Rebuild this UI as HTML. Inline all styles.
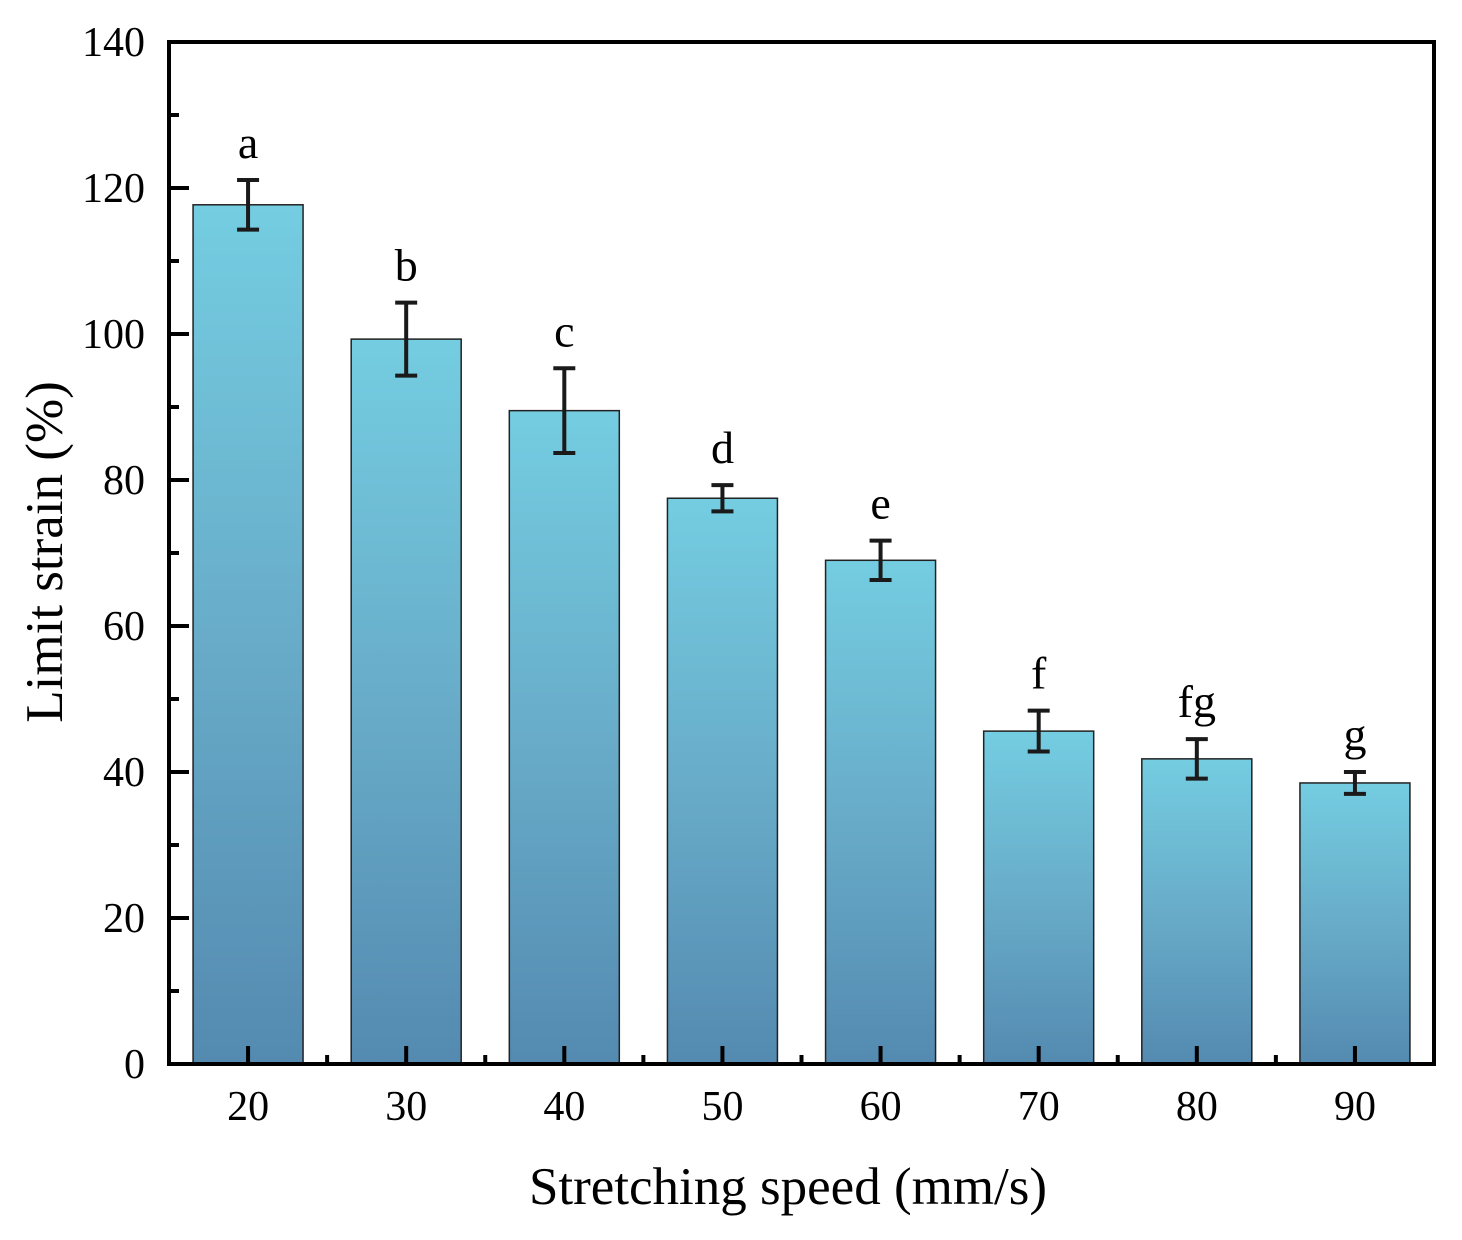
<!DOCTYPE html>
<html><head><meta charset="utf-8"><style>
html,body{margin:0;padding:0;background:#fff}
svg{display:block}
text{font-family:"Liberation Serif",serif;fill:#000}
</style></head><body>
<svg id="chart" width="1462" height="1240">
<defs>
<linearGradient id="g" x1="0" y1="0" x2="0" y2="1">
<stop offset="0" stop-color="#74cde1"/>
<stop offset="0.5" stop-color="#68acc9"/>
<stop offset="1" stop-color="#548ab0"/>
</linearGradient>
</defs>
<g id="plot"></g>
</svg>
<script>
const categories=["20","30","40","50","60","70","80","90"];
const values=[117.7,99.3,89.5,77.5,69.0,45.6,41.8,38.5];
const errors=[3.4,5.0,5.8,1.8,2.7,2.8,2.7,1.5];
const letters=["a","b","c","d","e","f","fg","g"];
const yTicks=[0,20,40,60,80,100,120,140];

const NS="http://www.w3.org/2000/svg";
const g=document.getElementById('plot');
const L=169,R=1434,T=42,B=1064,yMax=140;
const step=(R-L)/categories.length;
const y=v=>B-(v/yMax)*(B-T);
const x=i=>L+step*(i+0.5);
const bw=110;
function mk(tag,attrs,parent){const e=document.createElementNS(NS,tag);for(const k in attrs)e.setAttribute(k,attrs[k]);(parent||g).appendChild(e);return e;}

categories.forEach((c,i)=>{
  const cx=x(i),top=y(values[i]);
  const r=mk('rect',{x:cx-bw/2,y:top,width:bw,height:B-top,fill:'url(#g)',stroke:'#222','stroke-width':1.5});
  
  
  const eu=y(values[i]+errors[i]),ed=y(values[i]-errors[i]);
  const eb=mk('path',{d:`M${cx},${eu}V${ed}M${cx-11},${eu}H${cx+11}M${cx-11},${ed}H${cx+11}`,stroke:'#1a1a1a','stroke-width':4,fill:'none'});
  
  
  const lt=mk('text',{x:cx,y:eu-22,'font-size':46,'text-anchor':'middle'});
  lt.textContent=letters[i];
  
  
  const xl=mk('text',{x:cx,y:1120,'font-size':42,'text-anchor':'middle'});
  xl.textContent=c;
  
  
  mk('line',{x1:cx,x2:cx,y1:B,y2:B-18,stroke:'#000','stroke-width':4});
  if(i>0) mk('line',{x1:L+step*i,x2:L+step*i,y1:B,y2:B-9,stroke:'#000','stroke-width':4});
});
yTicks.forEach((t,i)=>{
  const yy=y(t);
  mk('line',{x1:L,x2:L+20,y1:yy,y2:yy,stroke:'#000','stroke-width':4});
  if(i<yTicks.length-1){const ym=y(t+10);mk('line',{x1:L,x2:L+10,y1:ym,y2:ym,stroke:'#000','stroke-width':4});}
  const tl=mk('text',{x:145,y:yy+14,'font-size':42,'text-anchor':'end'});
  tl.textContent=t;
  
  
});
const fr=mk('rect',{x:L,y:T,width:R-L,height:B-T,fill:'none',stroke:'#000','stroke-width':4});


const xt=mk('text',{x:788,y:1204,'font-size':53,'text-anchor':'middle'});
xt.textContent='Stretching speed (mm/s)';


const yt=mk('text',{x:0,y:0,'font-size':53,'text-anchor':'middle',transform:'translate(62,552) rotate(-90)'});
yt.textContent='Limit strain (%)';


</script>
</body></html>
